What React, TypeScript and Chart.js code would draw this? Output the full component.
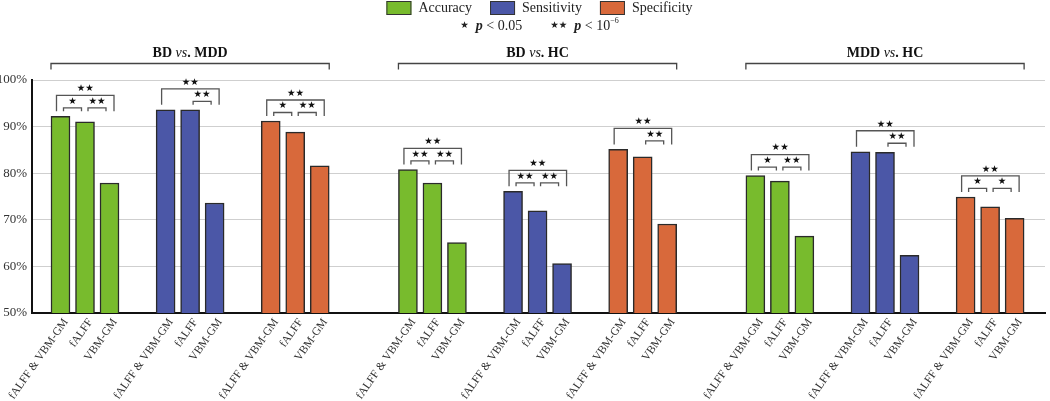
import React, { useEffect, useRef } from "react";
import { Chart, registerables } from "chart.js";

Chart.register(...registerables);

// ---------------- data ----------------
const comparisons = ["BD vs. MDD", "BD vs. HC", "MDD vs. HC"];
const methods = ["fALFF & VBM-GM", "fALFF", "VBM-GM"];
const metrics = ["Accuracy", "Sensitivity", "Specificity"];

// values in %, order: [comparison][method]
const accuracy = [92.2, 91.0, 77.9, 80.8, 77.9, 65.1, 79.5, 78.3, 66.5];
const sensitivity = [93.6, 93.6, 73.6, 76.1, 71.9, 60.6, 84.6, 84.5, 62.4];
const specificity = [91.2, 88.8, 81.6, 85.1, 83.5, 69.1, 74.9, 72.8, 70.3];

// significance per comparison: [method1 vs method3, method1 vs method2, method2 vs method3]
const sigAccuracy = [["**", "*", "**"], ["**", "**", "**"], ["**", "*", "**"]];
const sigSensitivity = [["**", "", "**"], ["**", "**", "**"], ["**", "", "**"]];
const sigSpecificity = [["**", "*", "**"], ["**", "", "**"], ["**", "*", "*"]];

const yTicks = [50, 60, 70, 80, 90, 100];
const sigKeyLabels = ["< 0.05", "< 10"];

const metricColors = ["#78BB2D", "#4B57A7", "#D8693B"];

// ---------------- layout / style ----------------
const SERIF = '"Liberation Serif", "Times New Roman", serif';
const STAR_FONT = '"DejaVu Sans", sans-serif';
const GROUP_STEP = 4.29;
const COMPARISON_STEP = 14.18;
const X_MIN = -1.163;
const X_MAX = 40.18;
const LABEL_SHIFT = 0.22; // rotated labels sit slightly right of bar centres

const metricValues = [accuracy, sensitivity, specificity];
const metricSigs = [sigAccuracy, sigSensitivity, sigSpecificity];

function slot(c: number, m: number, j: number) {
  return c * COMPARISON_STEP + m * GROUP_STEP + j;
}

const tickList: { value: number; label: string }[] = [];
comparisons.forEach((_, c) =>
  metrics.forEach((_, m) =>
    methods.forEach((name, j) => tickList.push({ value: slot(c, m, j) + LABEL_SHIFT, label: name }))
  )
);

const starText = (s: string) => s.replace(/\*/g, "\u2605");

type Run = { text: string; font: string; dy?: number };

function drawRuns(ctx: CanvasRenderingContext2D, runs: Run[], cx: number, cy: number, color: string) {
  let total = 0;
  const widths = runs.map((r) => {
    ctx.font = r.font;
    const w = ctx.measureText(r.text).width;
    total += w;
    return w;
  });
  let x = cx - total / 2;
  ctx.fillStyle = color;
  ctx.textBaseline = "middle";
  ctx.textAlign = "left";
  runs.forEach((r, i) => {
    ctx.font = r.font;
    ctx.fillText(r.text, x, cy + (r.dy || 0));
    x += widths[i];
  });
}

const annotationPlugin = {
  id: "annotations",
  afterDraw(chart: any) {
    const ctx: CanvasRenderingContext2D = chart.ctx;
    const area = chart.chartArea;
    const cx = (area.left + area.right) / 2 + 1;
    ctx.save();

    // ---- legend line 1 ----
    ctx.font = `14px ${SERIF}`;
    const boxW = 25, boxH = 14, gap = 7, spacing = 18;
    const items = metrics.map((name) => ({ name, w: boxW + gap + ctx.measureText(name).width }));
    const totalW = items.reduce((a, b) => a + b.w, 0) + spacing * (items.length - 1);
    let lx = cx - totalW / 2;
    items.forEach((it, i) => {
      ctx.fillStyle = metricColors[i];
      ctx.fillRect(lx, 1, boxW, boxH);
      ctx.strokeStyle = "#333";
      ctx.lineWidth = 1;
      ctx.strokeRect(lx + 0.5, 1.5, boxW - 1, boxH - 1);
      ctx.fillStyle = "#222";
      ctx.textBaseline = "middle";
      ctx.textAlign = "left";
      ctx.font = `14px ${SERIF}`;
      ctx.fillText(it.name, lx + boxW + gap, 8.5);
      lx += it.w + spacing;
    });

    // ---- legend line 2 (significance key) ----
    drawRuns(
      ctx,
      [
        { text: "\u2605", font: `9.5px ${STAR_FONT}` },
        { text: "  ", font: `14px ${SERIF}` },
        { text: "p", font: `italic bold 14px ${SERIF}` },
        { text: " " + sigKeyLabels[0], font: `14px ${SERIF}` },
        { text: "        ", font: `14px ${SERIF}` },
        { text: "\u2605\u2605", font: `9.5px ${STAR_FONT}` },
        { text: "  ", font: `14px ${SERIF}` },
        { text: "p", font: `italic bold 14px ${SERIF}` },
        { text: " " + sigKeyLabels[1], font: `14px ${SERIF}` },
        { text: "\u2212" + "6", font: `8px ${SERIF}`, dy: -5 },
      ],
      cx,
      26,
      "#222"
    );

    const el = (m: number, idx: number) => chart.getDatasetMeta(m).data[idx];

    // ---- comparison titles and brackets ----
    ctx.strokeStyle = "#444";
    ctx.lineWidth = 1.3;
    comparisons.forEach((name, c) => {
      const first = el(0, c * 3);
      const last = el(2, c * 3 + 2);
      const x1 = first.x - first.width / 2;
      const x2 = last.x + last.width / 2;
      const yb = area.top - 16.5;
      ctx.beginPath();
      ctx.moveTo(x1, area.top - 10.5);
      ctx.lineTo(x1, yb);
      ctx.lineTo(x2, yb);
      ctx.lineTo(x2, area.top - 10.5);
      ctx.stroke();
      const parts = name.split(" vs. ");
      drawRuns(
        ctx,
        [
          { text: parts[0] + " ", font: `bold 14px ${SERIF}` },
          { text: "vs", font: `italic 14px ${SERIF}` },
          { text: ". " + parts[1], font: `bold 14px ${SERIF}` },
        ],
        (x1 + x2) / 2,
        area.top - 26.5,
        "#111"
      );
    });

    // ---- significance brackets ----
    const bracket = (xa: number, xb: number, yTop: number, yBottom: number, label: string) => {
      ctx.strokeStyle = "#555";
      ctx.lineWidth = 1.3;
      ctx.beginPath();
      ctx.moveTo(xa, yBottom);
      ctx.lineTo(xa, yTop);
      ctx.lineTo(xb, yTop);
      ctx.lineTo(xb, yBottom);
      ctx.stroke();
      ctx.font = `9.5px ${STAR_FONT}`;
      ctx.fillStyle = "#111";
      ctx.textAlign = "center";
      ctx.textBaseline = "middle";
      ctx.fillText(starText(label), (xa + xb) / 2, yTop - 6.5);
    };

    metrics.forEach((_, m) => {
      comparisons.forEach((_, c) => {
        const bars = [0, 1, 2].map((j) => el(m, c * 3 + j));
        const sig = metricSigs[m][c];
        const maxTop = Math.min(...bars.map((b: any) => b.y));
        const legBottom = maxTop - 5;
        if (sig[0]) bracket(bars[0].x - 4, bars[2].x + 4.5, legBottom - 16, legBottom, sig[0]);
        if (sig[1]) bracket(bars[0].x + 3, bars[1].x - 3.5, legBottom - 3.5, legBottom, sig[1]);
        if (sig[2]) bracket(bars[1].x + 3, bars[2].x - 3.5, legBottom - 3.5, legBottom, sig[2]);
      });
    });

    ctx.restore();
  },
};

export default function App() {
  const canvasRef = useRef<HTMLCanvasElement | null>(null);

  useEffect(() => {
    if (!canvasRef.current) return;
    Chart.defaults.font.family = SERIF;
    const chart = new Chart(canvasRef.current, {
      type: "bar",
      data: {
        datasets: metrics.map((name, m) => ({
          label: name,
          data: comparisons.flatMap((_, c) =>
            methods.map((_, j) => ({ x: slot(c, m, j), y: metricValues[m][c * 3 + j] }))
          ),
          backgroundColor: metricColors[m],
          borderColor: "#2a2a2a",
          borderWidth: 1.5,
          barThickness: 19,
          grouped: false,
        })) as any,
      },
      options: {
        responsive: false,
        animation: false,
        devicePixelRatio: 1,
        layout: { padding: { top: 80, right: 5, left: 0, bottom: 0 } },
        plugins: {
          legend: { display: false },
          tooltip: { enabled: false },
        },
        scales: {
          x: {
            type: "linear",
            min: X_MIN,
            max: X_MAX,
            offset: false,
            bounds: "data",
            z: 1,
            afterBuildTicks: (axis: any) => {
              axis.ticks = tickList.map((t) => ({ value: t.value }));
            },
            afterFit: (axis: any) => {
              axis.height = 88;
              axis.paddingLeft = 0;
              axis.paddingRight = 0;
            },
            ticks: {
              autoSkip: false,
              minRotation: 55,
              maxRotation: 55,
              padding: 3,
              color: "#333",
              font: { family: SERIF, size: 11.5 },
              callback: (_v: any, i: number) => (tickList[i] ? tickList[i].label : ""),
            },
            grid: { display: false, offset: false, drawTicks: false },
            border: { display: true, color: "#111", width: 2 },
          },
          y: {
            min: 50,
            max: 100,
            afterBuildTicks: (axis: any) => {
              axis.ticks = yTicks.map((v) => ({ value: v }));
            },
            afterFit: (axis: any) => {
              axis.width = 32;
              axis.paddingTop = 0;
              axis.paddingBottom = 0;
            },
            ticks: {
              padding: 5,
              color: "#333",
              font: { family: SERIF, size: 13 },
              callback: (v: any) => v + "%",
            },
            grid: { color: "#cfcfcf", lineWidth: 1, drawTicks: false },
            border: { display: true, color: "#111", width: 2 },
          },
        },
      } as any,
      plugins: [annotationPlugin],
    });
    return () => chart.destroy();
  }, []);

  return (
    <div style={{ position: "absolute", left: 0, top: 0, width: 1050, height: 401, background: "#fff" }}>
      <canvas ref={canvasRef} width={1050} height={401} />
    </div>
  );
}
